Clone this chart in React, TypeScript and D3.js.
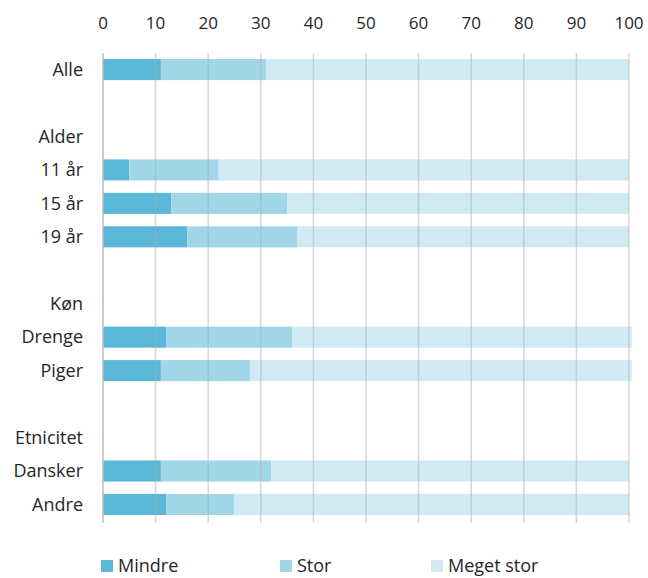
import * as d3 from "d3";

const rows = [
  "Alle", "", "Alder", "11 år", "15 år", "19 år", "",
  "Køn", "Drenge", "Piger", "", "Etnicitet", "Dansker", "Andre",
];
const keys = ["Mindre", "Stor", "Meget stor"];
const colors = ["#5ab7d7", "#a0d6e8", "#d0e9f2"];
// per category: Mindre, Stor, Meget stor
const mindre: Record<string, number> = {
  Alle: 11, "11 år": 5, "15 år": 13, "19 år": 16,
  Drenge: 12, Piger: 11, Dansker: 11, Andre: 12,
};
const stor: Record<string, number> = {
  Alle: 20, "11 år": 17, "15 år": 22, "19 år": 21,
  Drenge: 24, Piger: 17, Dansker: 21, Andre: 13,
};
const megetStor: Record<string, number> = {
  Alle: 69, "11 år": 78, "15 år": 65, "19 år": 63,
  Drenge: 64.5, Piger: 72.5, Dansker: 68, Andre: 75,
};
const xTicks = [0, 10, 20, 30, 40, 50, 60, 70, 80, 90, 100];

const FONT = "'Open Sans', 'Liberation Sans', sans-serif";
const TEXT = "#262626";

export default function App() {
  const width = 648;
  const height = 578;
  const margin = { left: 103, right: 19, top: 53, bottom: 57 };

  const x = d3.scaleLinear().domain([0, 100]).range([margin.left, width - margin.right]);
  const y = d3
    .scaleBand<string>()
    .domain(rows.map((r, i) => `${i}`))
    .range([margin.top, height - margin.bottom])
    .paddingInner(0.37)
    .paddingOuter(0.18);

  const bars = rows
    .map((r, i) => ({ r, i }))
    .filter((d) => mindre[d.r] !== undefined)
    .flatMap(({ r, i }) => {
      const vals = [mindre[r], stor[r], megetStor[r]];
      let acc = 0;
      return vals.map((v, k) => {
        const x0 = acc;
        acc += v;
        return { key: `${r}-${k}`, i, x0, x1: acc, k };
      });
    });

  const legendX = [101, 280, 431];

  return (
    <svg
      width={width}
      height={height}
      style={{ position: "absolute", left: 0, top: 0, fontFamily: FONT }}
    >
      {xTicks.map((t) => (
        <text
          key={`t${t}`}
          x={x(t)}
          y={29}
          textAnchor="middle"
          fontSize={17}
          fill={TEXT}
        >
          {t}
        </text>
      ))}
      {bars.map((b) => (
        <rect
          key={b.key}
          x={x(b.x0)}
          y={y(`${b.i}`)!}
          width={x(b.x1) - x(b.x0)}
          height={y.bandwidth()}
          fill={colors[b.k]}
        />
      ))}
      {xTicks.map((t) => (
        <line
          key={`g${t}`}
          x1={x(t)}
          x2={x(t)}
          y1={margin.top}
          y2={height - margin.bottom + 2}
          stroke={t === 0 ? "#bdbdbd" : "#b0b0b0"}
          strokeOpacity={t === 0 ? 1 : 0.5}
          strokeWidth={1.5}
        />
      ))}
      {rows.map((r, i) =>
        r ? (
          <text
            key={`l${i}`}
            x={83}
            y={y(`${i}`)! + y.bandwidth() / 2}
            dy="0.35em"
            textAnchor="end"
            fontSize={18}
            fill={TEXT}
          >
            {r}
          </text>
        ) : null,
      )}
      {keys.map((k, i) => (
        <g key={k}>
          <rect x={legendX[i]} y={560} width={12} height={12} fill={colors[i]} />
          <text x={legendX[i] + 17} y={572} fontSize={18} fill={TEXT}>
            {k}
          </text>
        </g>
      ))}
    </svg>
  );
}
